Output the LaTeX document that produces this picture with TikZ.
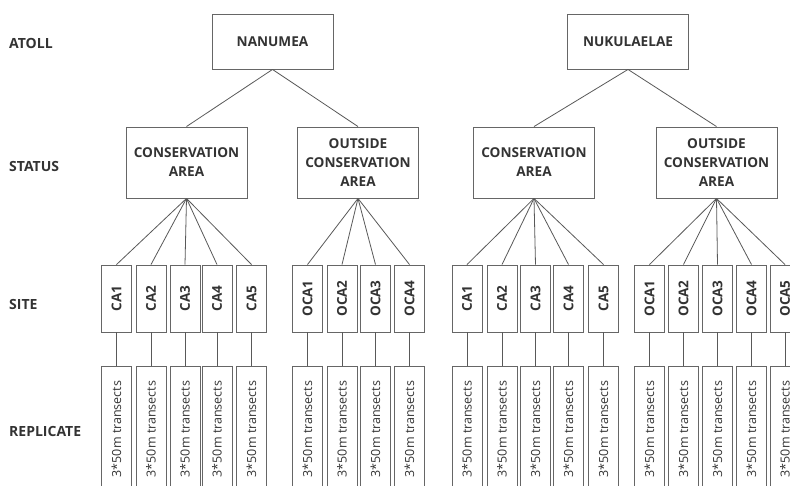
\documentclass[tikz,border=0pt]{standalone}
\usepackage{fontspec}
\usepackage{graphicx}
\setmainfont{Open Sans}
\begin{document}
\begin{tikzpicture}[x=1pt,y=-1pt,
  box/.style={draw=black!60, line width=0.9pt, fill=white, text=black!80, inner sep=0pt, align=center},
  atollbox/.style={box, minimum width=121pt, minimum height=55pt, font=\bfseries\fontsize{13.6}{15}\selectfont},
  statbox/.style={box, minimum width=121pt, minimum height=71pt, font=\bfseries\fontsize{13.6}{19}\selectfont},
  sitebox/.style={box, minimum width=30pt, minimum height=67pt, font=\bfseries\fontsize{13.5}{14}\selectfont},
  repbox/.style={box, minimum width=30pt, minimum height=126pt, font=\fontsize{12.5}{13}\selectfont},
  rowlabel/.style={anchor=west, text=black!80, inner sep=0pt, font=\bfseries\fontsize{14}{15}\selectfont},
  conn/.style={draw=black!65, line width=0.8pt}
]
\useasboundingbox (0,0) rectangle (790,486);
\clip (0,0) rectangle (790,486);
\fill[white] (0,0) rectangle (790,486);

% row labels
\node[rowlabel] (lAtoll) at (9,43) {ATOLL};
\node[rowlabel] (lStatus) at (9,167) {STATUS};
\node[rowlabel] (lSite) at (9,305) {SITE};
\node[rowlabel] (lRep) at (9,431) {REPLICATE};

% atolls
\node[atollbox] (A1) at (272.5,41.5) {NANUMEA};
\node[atollbox] (A2) at (628,41.5) {NUKULAELAE};

% status
\node[statbox] (S1) at (186.5,162.5) {CONSERVATION\\AREA};
\node[statbox] (S2) at (358,162.5) {OUTSIDE\\CONSERVATION\\AREA};
\node[statbox] (S3) at (534,162.5) {CONSERVATION\\AREA};
\node[statbox] (S4) at (716.5,162.5) {OUTSIDE\\CONSERVATION\\AREA};

\draw[conn] (A1.south) -- (S1.north);
\draw[conn] (A1.south) -- (S2.north);
\draw[conn] (A2.south) -- (S3.north);
\draw[conn] (A2.south) -- (S4.north);

% sites and replicates
\foreach \x [count=\i] in {116.5,151,185,217,251.5} {
  \node[sitebox] (NCA\i) at (\x,298.5) {\rotatebox{90}{CA\i}};
  \node[repbox] (NCAr\i) at (\x,429) {\rotatebox{90}{3*50m transects}};
  \draw[conn] (S1.south) -- (NCA\i.north);
  \draw[conn] (NCA\i.south) -- (NCAr\i.north);
}
\foreach \x [count=\i] in {307.5,342,375.5,409.5} {
  \node[sitebox] (NOCA\i) at (\x,298.5) {\rotatebox{90}{OCA\i}};
  \node[repbox] (NOCAr\i) at (\x,429) {\rotatebox{90}{3*50m transects}};
  \draw[conn] (S2.south) -- (NOCA\i.north);
  \draw[conn] (NOCA\i.south) -- (NOCAr\i.north);
}
\foreach \x [count=\i] in {467,502,535.5,568.5,603.5} {
  \node[sitebox] (KCA\i) at (\x,298.5) {\rotatebox{90}{CA\i}};
  \node[repbox] (KCAr\i) at (\x,429) {\rotatebox{90}{3*50m transects}};
  \draw[conn] (S3.south) -- (KCA\i.north);
  \draw[conn] (KCA\i.south) -- (KCAr\i.north);
}
\foreach \x [count=\i] in {649.5,683.5,717.5,751.5,785} {
  \node[sitebox] (KOCA\i) at (\x,298.5) {\rotatebox{90}{OCA\i}};
  \node[repbox] (KOCAr\i) at (\x,429) {\rotatebox{90}{3*50m transects}};
  \draw[conn] (S4.south) -- (KOCA\i.north);
  \draw[conn] (KOCA\i.south) -- (KOCAr\i.north);
}
\end{tikzpicture}
\end{document}
